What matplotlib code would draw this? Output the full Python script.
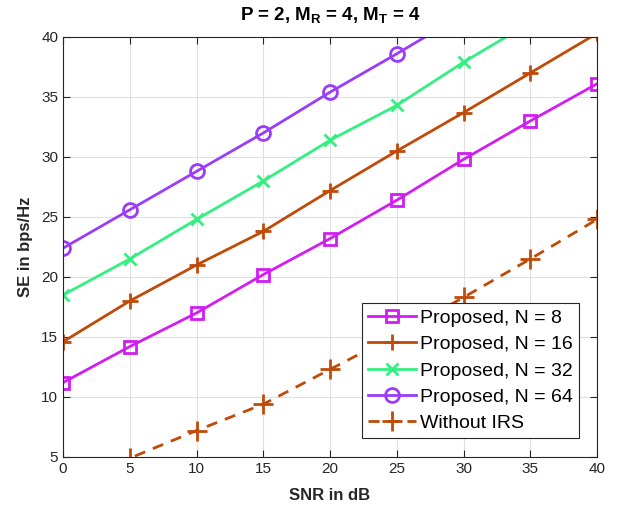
import numpy as np
import matplotlib
matplotlib.use('Agg')
import matplotlib.pyplot as plt

plt.rcParams['font.family'] = ['Liberation Sans', 'DejaVu Sans']
plt.rcParams['mathtext.fontset'] = 'custom'
plt.rcParams['mathtext.rm'] = 'Liberation Sans'
plt.rcParams['mathtext.bf'] = 'Liberation Sans:bold'

snr_db = [0, 5, 10, 15, 20, 25, 30, 35, 40]
se_n8 = [11.2, 14.2, 17.0, 20.2, 23.2, 26.4, 29.8, 33.0, 36.1]
se_n16 = [14.6, 18.0, 21.0, 23.8, 27.2, 30.5, 33.7, 37.0, 40.3]
se_n32 = [18.5, 21.5, 24.8, 28.0, 31.4, 34.3, 37.9, 41.2, 44.5]
se_n64 = [22.4, 25.6, 28.8, 32.0, 35.4, 38.6, 41.9, 45.2, 48.5]
se_no_irs = [2.6, 4.9, 7.2, 9.4, 12.3, 15.2, 18.3, 21.5, 24.8]

fig = plt.figure(figsize=(6.2, 5.13), dpi=100)
ax = fig.add_axes([63 / 620, 1 - 457 / 513, (597 - 63) / 620, (457 - 37) / 513])

lw = 2.0
ax.plot(snr_db, se_n8, '-s', color='#D21CF2', lw=lw, ms=8, mfc='none', mew=2,
        label='Proposed, N = 8')
ax.plot(snr_db, se_n16, '-+', color='#C04A08', lw=lw, ms=11, mew=2,
        label='Proposed, N = 16')
ax.plot(snr_db, se_n32, '-x', color='#33F080', lw=lw, ms=8, mew=2,
        label='Proposed, N = 32')
ax.plot(snr_db, se_n64, '-o', color='#9A3CF8', lw=lw, ms=10, mfc='none', mew=2,
        label='Proposed, N = 64')
ax.plot(snr_db, se_no_irs, '--+', color='#C04A08', lw=lw, ms=14, mew=2,
        dashes=(4, 3), label='Without IRS')

ax.set_xlim(0, 40)
ax.set_ylim(5, 40)
ax.set_xticks(np.arange(0, 41, 5))
ax.set_yticks(np.arange(5, 41, 5))
ax.tick_params(direction='in', top=True, right=True, labelsize=11, colors='#262626',
               length=5)
ax.grid(True, color='#E0E0E0', lw=0.8)
ax.set_axisbelow(True)
for s in ax.spines.values():
    s.set_color('#262626')
    s.set_linewidth(0.8)

ax.set_xlabel('SNR in dB', fontsize=12, fontweight='bold', color='#262626',
              labelpad=9)
ax.set_ylabel('SE in bps/Hz', fontsize=12, fontweight='bold', color='#262626',
              labelpad=6)
ax.set_title(r'P = 2, M$_\mathbf{R}$ = 4, M$_\mathbf{T}$ = 4', fontsize=13.5,
             fontweight='bold', pad=12)

leg = ax.legend(loc='lower right', bbox_to_anchor=(0.966, 0.045), fontsize=14,
                fancybox=False, framealpha=1, edgecolor='#262626',
                handlelength=2.5, borderpad=0.3, labelspacing=0.45,
                handletextpad=0.2, borderaxespad=0)
leg.get_frame().set_linewidth(0.8)

fig.savefig('out.png', dpi=100)
